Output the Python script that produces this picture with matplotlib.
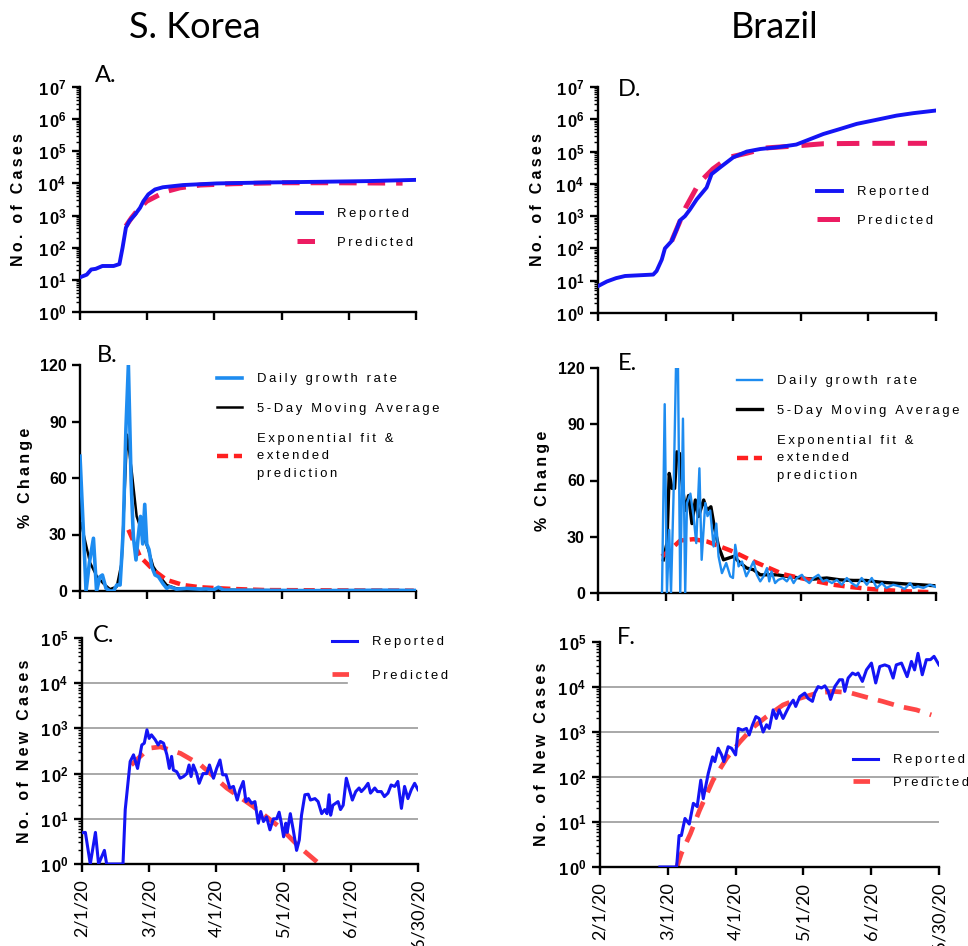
import numpy as np
import matplotlib
matplotlib.use('Agg')
import matplotlib.pyplot as plt
from matplotlib.ticker import FixedLocator, LogLocator, NullFormatter, FuncFormatter

plt.rcParams['font.family'] = ['Liberation Sans', 'DejaVu Sans']
plt.rcParams['mathtext.fontset'] = 'custom'
plt.rcParams['mathtext.rm'] = 'Liberation Sans'
plt.rcParams['mathtext.bf'] = 'Liberation Sans:bold'
plt.rcParams['mathtext.it'] = 'Liberation Sans:italic'

# x axis: days since 2/1/20
TICK_DAYS = [0, 30, 60, 90, 120, 150]
TICK_DATES = ['2/1/20', '3/1/20', '4/1/20', '5/1/20', '6/1/20', '6/30/20']

# ---- S. Korea, cumulative cases (A)
KOR_CUM_DAY = [0, 3, 5, 7, 10, 15, 17.6, 19, 20.5, 22, 24.6, 26.8, 28.3, 30.5, 33.5,
               37, 46, 61, 83, 105, 128, 150]
KOR_CUM = [12, 14.5, 21, 22, 27, 27, 31, 100, 420, 670, 1080, 1740, 2800, 4570, 6500,
           7600, 8900, 10000, 10700, 11200, 11800, 12900]
KOR_PRED_DAY = [20.5, 23, 26, 29.8, 38, 44.6, 53.6, 68.4, 90.8, 113, 144]
KOR_PRED = [470, 850, 1550, 2800, 5500, 7300, 8900, 9800, 10500, 10500, 10200]

# ---- Brazil, cumulative cases (D)
BRA_CUM_DAY = [0, 4, 8, 12, 24.5, 26, 28.3, 29.7, 32.7, 34.9, 36.4, 38.6, 40.8, 43.8,
               48.2, 50.4, 54.1, 60, 66, 72, 81, 88, 92.6, 100, 107.4, 114.8, 122.2,
               132.5, 140, 150]
BRA_CUM = [6.8, 9.5, 12, 14, 15.5, 20, 45, 100, 170, 390, 740, 1000, 1600, 3300,
           7700, 20000, 32000, 66000, 100000, 120000, 140000, 165000, 220000, 350000,
           500000, 720000, 920000, 1300000, 1550000, 1870000]
BRA_PRED_DAY = [32.7, 39, 45, 51, 58, 66, 75, 88, 100, 120, 146]
BRA_PRED = [170, 1900, 11000, 29000, 66000, 89000, 130000, 150000, 175000, 180000, 180000]

# ---- S. Korea, % change (B)
KOR_GR_DAY = [0, 1.5, 2.7, 4.2, 6, 7.4, 8.9, 10, 11.6, 13.4, 15, 16.4, 17.9, 19.3,
              20.5, 21.6, 22.8, 23.8, 25, 26, 27, 28, 28.9, 29.8, 30.8, 32, 33.5, 35,
              37, 38.7, 40, 43, 47.6, 53.6, 56.5, 59.5, 61.8, 64, 75, 90, 105, 120,
              135, 150]
KOR_GR = [71.6, 32, 0, 15, 28, 0, 7.6, 8.5, 1.4, 0, 0, 3.2, 3.2, 32,
          86, 120, 59, 29, 16.5, 29, 39.6, 25, 46, 25, 22, 13, 8.5, 7.6,
          4, 1.4, 2.3, 1, 1.4, 1, 1.1, 0.6, 2, 0.5, 0.4, 0.3, 0.2, 0.3,
          0.4, 0.3]
KOR_MA_DAY = [0.5, 4.5, 7.4, 10.4, 13.4, 16.4, 18.6, 21, 23, 25.3, 28.3, 30.5, 32.7,
              35.7, 38.7, 43, 55, 70, 90, 120, 150]
KOR_MA = [36, 15, 8, 4, 1, 2.3, 15, 83, 64.5, 39.6, 29, 22, 13,
          7.6, 3.2, 1.4, 1, 0.6, 0.4, 0.3, 0.3]
KOR_FIT_DAY = [21.6, 26.8, 32.7, 38.7, 46, 53.6, 68, 83, 113, 149]
KOR_FIT = [32.5, 18.3, 11.2, 5.9, 3.2, 2, 1.1, 0.5, 0.35, 0.2]

# ---- Brazil, % change (E)
BRA_GR_DAY = [28.4, 29.6, 30.6, 31.6, 32.4, 33.5, 34.6, 35.5, 36.5, 37.7, 38.7, 39.5,
              41, 42.4, 43.6, 45, 46, 47.6, 48.6, 49.8, 51.3, 52.5, 53.5, 55, 56.9,
              58.7, 59.9, 60.9, 62.4, 63.9, 65.8, 67.3, 69, 70.5, 72, 73.5, 75, 76,
              77, 78.6, 80, 82, 83.8, 85.3, 86.8, 88.2, 90.5, 92, 93.8, 95.6, 97.8,
              99.8, 101.5, 103.8, 106, 108.2, 110.4, 112.6, 114.8, 117, 119.3, 121.5,
              123.7, 126, 128, 131, 134, 136, 138.5, 140, 142, 144.4, 147.4, 150]
BRA_GR = [0, 100.7, 0, 33.7, 0, 51, 120, 120, 0, 93, 0, 48,
          53, 41, 26.6, 66.5, 17.7, 48, 41, 44, 24.8, 37, 19.5, 10.6, 16,
          8.9, 8, 25.7, 14.2, 16.8, 8.9, 12.4, 16.8, 9.7, 6.2, 8.9, 13.3, 6.2,
          11.5, 5.3, 7, 8, 6.2, 8.9, 5.3, 8, 9.7, 7, 5.3, 8, 9.7,
          6.2, 7, 5.3, 7, 4.4, 8, 5.3, 3.5, 8, 4.4, 8,
          2.7, 5.3, 2.7, 4.4, 3.5, 2.1, 5.3, 2.7, 3.5, 2.7, 4.4, 3.2]
BRA_MA_DAY = [29, 30.6, 31.6, 32.8, 34, 35, 36.2, 37.2, 38.7, 40.2, 41.7, 43.2, 44.6,
              46.9, 48.3, 50.1, 51.6, 53.5, 55.7, 57.9, 60.2, 63.1, 66, 69, 72, 75,
              79.4, 83.8, 89.7, 95.6, 101.5, 107.5, 113.4, 119, 125, 131, 137, 143, 149]
BRA_MA = [17.7, 26.6, 63.8, 55.8, 55.8, 75.3, 74.4, 60, 44, 52, 37, 49.6, 40.8,
          49.6, 44, 46, 35.4, 24.8, 17.7, 18.6, 19.5, 16, 13.3, 12.4, 9.7, 9.7,
          9.7, 8.9, 8, 7.4, 8, 7, 6.7, 6.7, 5.8, 5.3, 4.8, 4.4, 3.9]
BRA_FIT_DAY = [28.4, 32, 36.5, 42.4, 48.3, 54.2, 60.2, 67.5, 75, 82.3, 89.7, 97,
               104.5, 112, 119.3, 126.7, 134, 141.4, 146.6]
BRA_FIT = [19.5, 23, 28, 28.7, 27.5, 24.8, 22, 17.7, 13.8, 10, 8, 6.2,
           4.4, 3.2, 2.3, 1.6, 1.1, 0.7, 0.5]

# ---- S. Korea, new cases (C); 1 = no new case on log axis
KOR_NEW_DAY = [0, 1.5, 3.7, 6, 7.4, 10, 11, 18.3, 19.3, 21.5,
               23, 24.8, 26.7, 27.8, 29, 30, 31, 32.7, 34, 35,
               36.4, 37.9, 39, 40, 40.8, 42.3, 43.8, 45.3, 46.8, 47.8,
               48.7, 49.7, 51.2, 52.3, 54, 55.7, 56.9, 58.7, 60.1, 61.6,
               62.8, 64.3, 66, 67.6, 69.3, 70.5, 72, 73.2, 74.3, 75.7,
               77.2, 78.7, 79.8, 81, 82.4, 83.9, 85.4, 86.9, 88, 89,
               90, 91, 91.6, 93, 94.3, 95.8, 97, 98, 99.5, 101,
               102, 104, 105.4, 107, 108.4, 109.4, 110.3, 111, 112, 114.3,
               115.4, 116.6, 118, 119, 120.7, 122.2, 123.7, 124.7, 126.2, 127.7,
               128.8, 130.7, 131.9, 133.6, 135, 136.6, 138, 139.6, 141, 142.6,
               144, 145.5, 147, 148.5, 150]
KOR_NEW = [4.9, 5, 1, 5, 1, 2, 1, 1, 16, 185,
           260, 130, 430, 470, 930, 600, 720, 560, 430, 515,
           470, 260, 130, 240, 120, 110, 79, 86, 100, 155,
           86, 155, 100, 61, 100, 100, 155, 79, 130, 200,
           94, 94, 48, 52, 26, 44, 67, 24, 28, 22,
           24, 8, 14.5, 8.7, 11, 5.7, 10, 10, 14, 8,
           4, 8, 5, 13, 5.7, 2, 3.4, 12, 34, 35,
           26, 28, 24, 13, 16, 13, 34, 12, 20, 24,
           16, 20, 79, 52, 26, 40, 48, 40, 48, 61,
           37, 48, 40, 40, 31, 37, 56, 52, 67, 17,
           52, 28, 44, 61, 44]
KOR_NEW_PRED_DAY = [22, 26, 30, 35, 44, 53, 64.6, 76.5, 88, 97, 106]
KOR_NEW_PRED = [155, 240, 365, 390, 280, 155, 48, 18.6, 6.7, 2.4, 1]

# ---- Brazil, new cases (F)
BRA_NEW_DAY = [26.5, 33.9, 35, 36, 37.6, 39.5, 41.3, 43, 44.6, 45.7,
               47.9, 49.8, 50.8, 52.3, 53.8, 54.8, 56.7, 58.2, 60, 61.2,
               63, 64.8, 66, 67.5, 69, 70.4, 72.2, 73.7, 74.9, 76.6,
               78, 79.3, 81, 82.5, 84, 85.5, 86.6, 88.4, 90.6, 92,
               94, 95, 96.5, 98, 99.5, 101, 102, 103.9, 106, 107.3,
               108.3, 109.8, 111.7, 113.2, 114.2, 116.1, 117.9, 120.1, 122, 123.8,
               126, 127.9, 129.7, 131.1, 133.4, 135.9, 137.8, 139.2, 140.7, 142.6,
               144.4, 146.2, 147.8, 150]
BRA_NEW = [1, 1, 5, 5, 12, 9, 26, 22, 85, 33,
           120, 280, 220, 435, 310, 220, 470, 435, 310, 1200,
           1100, 1200, 860, 1450, 2200, 2000, 1000, 1450, 1200, 3100,
           2000, 3100, 2000, 2850, 4000, 5100, 3700, 6100, 7300, 5600,
           4800, 7300, 10200, 9500, 10600, 8000, 5300, 10200, 14500, 14500,
           8000, 15800, 20400, 18700, 20400, 13300, 24000, 34000, 12300, 28500,
           31000, 28500, 15800, 31000, 34000, 17000, 37000, 24000, 56000, 18700,
           40500, 40500, 48000, 31000]
BRA_NEW_PRED_DAY = [34, 36, 40, 44, 50, 56, 62, 68, 73.7, 81, 88.4, 96, 103, 110.5,
                    118, 125, 132.6, 140, 146.6]
BRA_NEW_PRED = [1, 2, 5.5, 18, 85, 260, 610, 1300, 2200, 4000, 5600, 7300, 8000, 7500,
                5900, 4800, 3700, 3100, 2400]

BLUE = '#1414f5'
PINK = '#ec1c62'
CORAL = '#ff4646'
SKY = '#1e8cf0'
RED = '#ff2020'

W, H = 968, 946
fig = plt.figure(figsize=(W / 100, H / 100), dpi=100)


def box(left, top, right, bottom):
    return [left / W, 1 - bottom / H, (right - left) / W, (bottom - top) / H]


def spaced(s):
    return '\u2009'.join(s)


def log_fmt(v, pos):
    return r'$\mathbf{1\,0^{%d}}$' % int(round(np.log10(v)))


def base_axes(rect, ylabel, label_x):
    ax = fig.add_axes(rect)
    for s in ['top', 'right']:
        ax.spines[s].set_visible(False)
    for s in ['left', 'bottom']:
        ax.spines[s].set_linewidth(1.7)
    ax.set_xlim(0, 150)
    ax.set_xticks(TICK_DAYS)
    ax.tick_params(which='major', direction='out', length=6, width=1.7, labelsize=12)
    ax.tick_params(which='minor', direction='out', length=3, width=1.0)
    ax.tick_params(axis='x', labelbottom=False)
    ax.set_ylabel(spaced(ylabel), fontsize=11.5, fontweight='bold')
    ax.yaxis.set_label_coords(label_x, 0.5)
    return ax


def log_axes(ax, top_exp):
    ax.set_yscale('log')
    ax.set_ylim(1, 10 ** top_exp)
    ax.yaxis.set_major_locator(FixedLocator([10 ** k for k in range(top_exp + 1)]))
    ax.yaxis.set_major_formatter(FuncFormatter(log_fmt))
    ax.yaxis.set_minor_locator(LogLocator(base=10, subs=np.arange(2, 10), numticks=30))
    ax.yaxis.set_minor_formatter(NullFormatter())


def pct_axes(ax):
    ax.set_ylim(0, 120)
    ax.set_yticks([0, 30, 60, 90, 120])
    ax.set_yticklabels(['0', '30', '60', '90', '120'], fontweight='bold', fontsize=11.5)


def date_labels(ax):
    ax.tick_params(axis='x', labelbottom=True, pad=5)
    ax.set_xticklabels(TICK_DATES, rotation=90, fontsize=13, family='Lato')


def place_legend(ax, x, y, ls=1.1, multiline=1.2):
    leg = ax.legend(loc='upper left', bbox_to_anchor=(x / W, 1 - y / H),
                    bbox_transform=fig.transFigure, frameon=False, fontsize=9.4,
                    borderpad=0, borderaxespad=0, handlelength=1.9, handletextpad=1.15,
                    labelspacing=ls)
    for t in leg.get_texts():
        t.set_linespacing(multiline)


def panel_letter(x, y, t):
    fig.text(x / W, 1 - y / H, t, fontsize=17, family='Lato', va='center', ha='left')


# ---------- A
axA = base_axes(box(80, 87, 416, 312), 'No. of Cases', -0.161)
log_axes(axA, 7)
axA.plot(KOR_CUM_DAY, KOR_CUM, color=BLUE, lw=2.8, label=spaced('Reported'), zorder=3)
axA.plot(KOR_PRED_DAY, KOR_PRED, color=PINK, lw=3.6, dashes=(3.5, 2.2),
         label=spaced('Predicted'), zorder=2)
place_legend(axA, 297, 208, ls=1.25)

# ---------- D
axD = base_axes(box(598, 87, 936, 313), 'No. of Cases', -0.157)
log_axes(axD, 7)
axD.plot(BRA_CUM_DAY, BRA_CUM, color=BLUE, lw=2.8, label=spaced('Reported'), zorder=3)
axD.plot(BRA_PRED_DAY, BRA_PRED, color=PINK, lw=3.6, dashes=(4.5, 2.6),
         label=spaced('Predicted'), zorder=2)
place_legend(axD, 817, 186, ls=1.25)

# ---------- B
fit_label = '\n'.join(spaced(t) for t in ['Exponential fit &', 'extended', 'prediction'])
axB = base_axes(box(80, 365, 416, 591), '% Change', -0.14)
pct_axes(axB)
axB.plot(KOR_GR_DAY, KOR_GR, color=SKY, lw=2.6, label=spaced('Daily growth rate'), zorder=3)
axB.plot(KOR_MA_DAY, KOR_MA, color='black', lw=1.8, label=spaced('5-Day Moving Average'),
         zorder=2)
axB.plot(KOR_FIT_DAY, KOR_FIT, color=RED, lw=3.2, dashes=(2.5, 1.3), label=fit_label,
         zorder=2.5)
place_legend(axB, 217, 373, ls=1.35, multiline=1.65)

# ---------- E
axE = base_axes(box(598, 368, 936, 593), '% Change', -0.142)
pct_axes(axE)
axE.plot(BRA_GR_DAY, BRA_GR, color=SKY, lw=1.7, label=spaced('Daily growth rate'), zorder=3)
axE.plot(BRA_MA_DAY, BRA_MA, color='black', lw=2.4, label=spaced('5-Day Moving Average'),
         zorder=2)
axE.plot(BRA_FIT_DAY, BRA_FIT, color=RED, lw=3.2, dashes=(2.5, 1.3), label=fit_label,
         zorder=2.5)
place_legend(axE, 737, 375, ls=1.35, multiline=1.65)

# ---------- C
axC = base_axes(box(82, 638, 418, 864), 'No. of New Cases', -0.149)
log_axes(axC, 5)
for k in range(1, 5):
    axC.axhline(10 ** k, xmax=0.79 if k == 4 else 1, color='#9a9a9a', lw=1.2, zorder=0)
axC.plot(KOR_NEW_DAY, KOR_NEW, color=BLUE, lw=2.2, label=spaced('Reported'), zorder=3)
axC.plot(KOR_NEW_PRED_DAY, KOR_NEW_PRED, color=CORAL, lw=3.4, dashes=(3.5, 2.2),
         label=spaced('Predicted'), zorder=2)
date_labels(axC)
place_legend(axC, 332, 636, ls=1.65)

# ---------- F
axF = base_axes(box(600, 642, 939, 867), 'No. of New Cases', -0.15)
log_axes(axF, 5)
for k in range(1, 5):
    axF.axhline(10 ** k, xmax=0.78 if k == 4 else 1, color='#9a9a9a', lw=1.2, zorder=0)
axF.plot(BRA_NEW_DAY, BRA_NEW, color=BLUE, lw=2.2, label=spaced('Reported'), zorder=3)
axF.plot(BRA_NEW_PRED_DAY, BRA_NEW_PRED, color=CORAL, lw=3.4, dashes=(3.5, 2.2),
         label=spaced('Predicted'), zorder=2)
date_labels(axF)
place_legend(axF, 853, 754, ls=0.8)

# titles and panel letters
fig.text(195 / W, 1 - 28 / H, 'S. Korea', fontsize=26, family='Lato', ha='center', va='center')
fig.text(775 / W, 1 - 28 / H, 'Brazil', fontsize=26, family='Lato', ha='center', va='center')
panel_letter(95, 75, 'A.')
panel_letter(97, 355, 'B.')
panel_letter(93, 635, 'C.')
panel_letter(618, 90, 'D.')
panel_letter(618, 363, 'E.')
panel_letter(617, 638, 'F.')

fig.savefig('out.png', dpi=100)
